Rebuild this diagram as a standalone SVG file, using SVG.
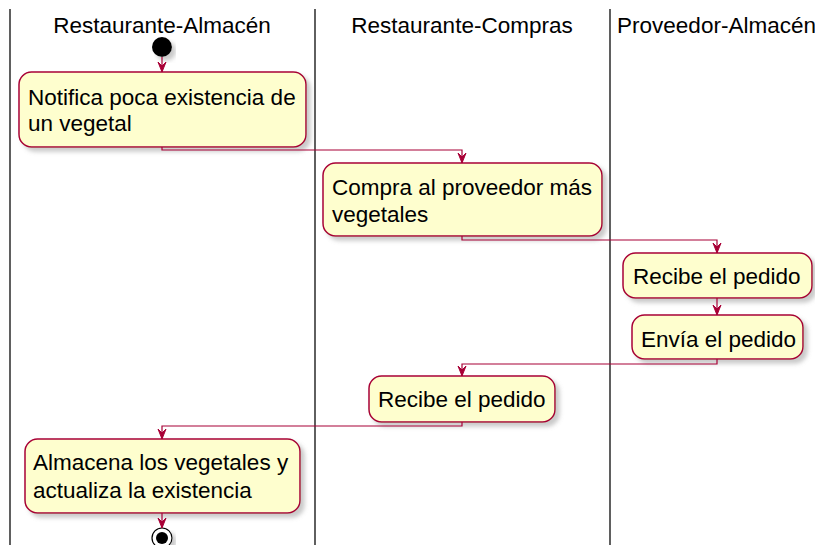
<svg xmlns="http://www.w3.org/2000/svg" width="815" height="545" viewBox="0 0 815 545">
<style>
.lane{stroke:#383838;stroke-width:1.6;fill:none}
.title{font-family:"Liberation Sans",Arial,sans-serif;font-size:22.5px;fill:#000}
.box{fill:#FEFECE;stroke:#A80036;stroke-width:1.5;filter:url(#sh)}
.txt{font-family:"Liberation Sans",Arial,sans-serif;font-size:22.5px;fill:#000}
.con{fill:none;stroke:#A80036;stroke-width:1.2;marker-end:url(#ah)}
</style>
<defs>
<filter id="sh" x="-10%" y="-10%" width="130%" height="140%">
<feGaussianBlur in="SourceAlpha" stdDeviation="2"/>
<feOffset dx="4" dy="4" result="b"/>
<feColorMatrix in="b" type="matrix" values="0 0 0 0 0.3 0 0 0 0 0.3 0 0 0 0 0.3 0 0 0 0.5 0" result="c"/>
<feMerge><feMergeNode in="c"/><feMergeNode in="SourceGraphic"/></feMerge>
</filter>
<marker id="ah" markerUnits="userSpaceOnUse" markerWidth="10" markerHeight="10" refX="10" refY="4" orient="auto" viewBox="0 0 10 8">
<path d="M0,0 L10,4 L0,8 L4,4 Z" fill="#A80036" stroke="#A80036" stroke-width="1"/>
</marker>
</defs>
<g id="lanes">
<line class="lane" x1="10" y1="9" x2="10" y2="545"/>
<line class="lane" x1="315" y1="9" x2="315" y2="545"/>
<line class="lane" x1="610" y1="9" x2="610" y2="545"/>
<text class="title" x="162" y="33" text-anchor="middle">Restaurante-Almacén</text>
<text class="title" x="462" y="33" text-anchor="middle">Restaurante-Compras</text>
<text class="title" x="716.5" y="33" text-anchor="middle">Proveedor-Almacén</text>
</g>
<g id="start"><circle cx="162" cy="47" r="10" fill="#000" filter="url(#sh)"/></g>
<g id="n1"><rect class="box" x="19" y="72" width="287" height="75" rx="12.5"/>
<text class="txt" x="28" y="105">Notifica poca existencia de</text>
<text class="txt" x="28" y="131">un vegetal</text></g>
<g id="n2"><rect class="box" x="323" y="163" width="279" height="73" rx="12.5"/>
<text class="txt" x="332" y="195">Compra al proveedor más</text>
<text class="txt" x="332" y="222">vegetales</text></g>
<g id="n3"><rect class="box" x="623" y="253" width="189" height="45" rx="12.5"/>
<text class="txt" x="633" y="284">Recibe el pedido</text></g>
<g id="n4"><rect class="box" x="632" y="315" width="171" height="44" rx="12.5"/>
<text class="txt" x="641" y="347">Envía el pedido</text></g>
<g id="n5"><rect class="box" x="369" y="376" width="186" height="46" rx="12.5"/>
<text class="txt" x="378" y="407">Recibe el pedido</text></g>
<g id="n6"><rect class="box" x="25" y="439" width="275" height="74" rx="12.5"/>
<text class="txt" x="33" y="470">Almacena los vegetales y</text>
<text class="txt" x="33" y="498">actualiza la existencia</text></g>
<g id="end"><circle cx="162" cy="538" r="10" fill="#fff" stroke="#000" stroke-width="1.2" filter="url(#sh)"/><circle cx="162" cy="538" r="6" fill="#000"/></g>
<g id="connectors">
<path class="con" d="M162,57 L162,72"/>
<path class="con" d="M162,147 L162,150 L462,150 L462,163"/>
<path class="con" d="M462,236 L462,240 L717,240 L717,253"/>
<path class="con" d="M717,298 L717,315"/>
<path class="con" d="M717,359 L717,364 L462,364 L462,376"/>
<path class="con" d="M462,422 L462,426 L162,426 L162,439"/>
<path class="con" d="M162,513 L162,528"/>
</g>
</svg>
